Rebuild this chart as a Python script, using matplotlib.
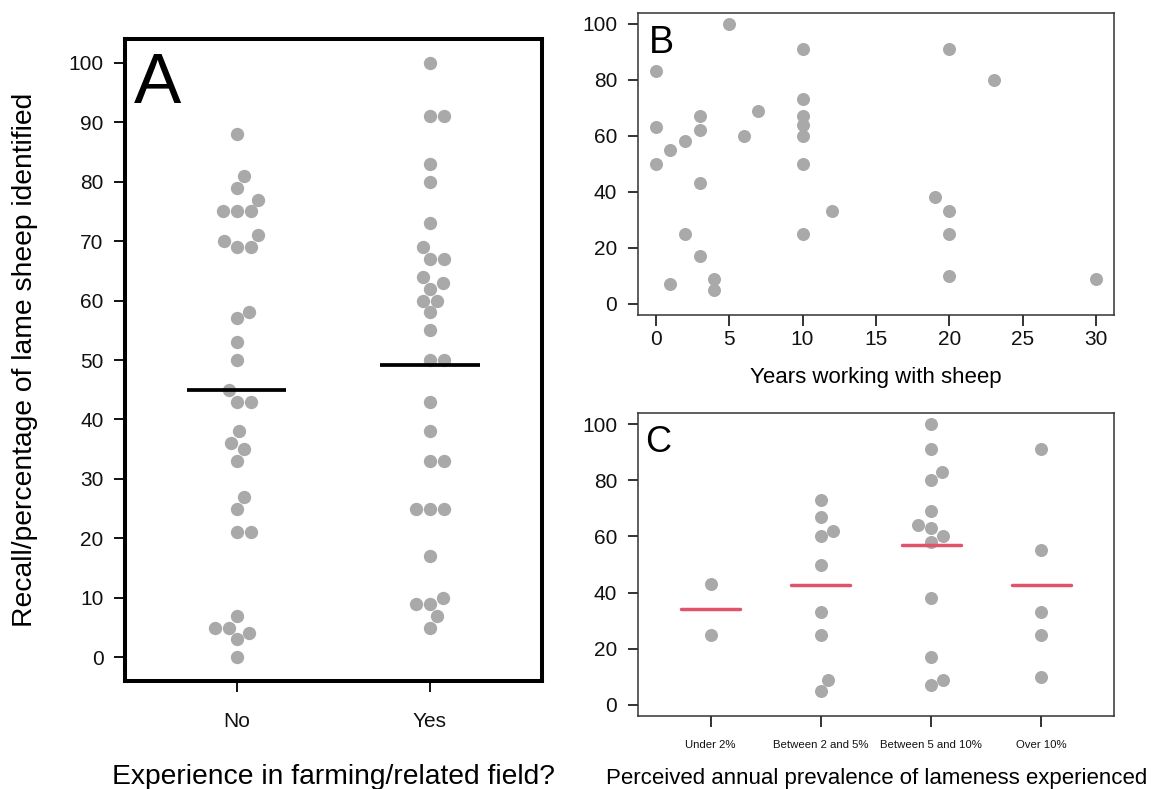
import numpy as np
import matplotlib.pyplot as plt

plt.rcParams['font.family'] = ['Liberation Sans', 'DejaVu Sans']

# A: recall by farming experience
exp_labels = ["No", "Yes"]
exp_no = [88, 81, 79, 77, 75, 75, 75, 71, 70, 69, 69, 58, 57, 53, 50, 45,
          43, 43, 38, 36, 35, 33, 27, 25, 21, 21, 7, 5, 5, 4, 3, 0]
exp_yes = [100, 91, 91, 83, 80, 73, 69, 67, 67, 64, 63, 62, 60, 60, 58, 55,
           50, 50, 43, 38, 33, 33, 25, 25, 25, 17, 10, 9, 9, 7, 5]

# B: recall vs years with sheep
years = [0, 0, 0, 1, 1, 2, 2, 3, 3, 3, 3, 4, 4, 5, 6, 7,
         10, 10, 10, 10, 10, 10, 10, 12, 19, 20, 20, 20, 20, 23, 30]
recall_years = [83, 63, 50, 55, 7, 58, 25, 67, 62, 43, 17, 9, 5, 100, 60, 69,
                91, 73, 67, 64, 60, 50, 25, 33, 38, 91, 33, 25, 10, 80, 9]

# C: recall by perceived lameness prevalence
prev_labels = ["Under 2%", "Between 2 and 5%", "Between 5 and 10%", "Over 10%"]
prev_under2 = [43, 25]
prev_2to5 = [73, 67, 62, 60, 50, 33, 25, 9, 5]
prev_5to10 = [100, 91, 83, 80, 69, 64, 63, 60, 58, 38, 17, 9, 7]
prev_over10 = [91, 55, 33, 25, 10]

GREY = "#A9A9A9"
RED = "#DF536B"
W, H = 1161, 789


def px_axes(fig, left, top, right, bottom):
    return fig.add_axes([left / W, 1 - bottom / H, (right - left) / W, (bottom - top) / H])


def px_text(x, y, s, **kw):
    fig.text(x / W, 1 - y / H, s, **kw)


def swarm(ax, values, diam):
    """Beeswarm offsets: points go in ascending order, each as close to the centre as it can."""
    ys = ax.transData.transform(np.column_stack([np.zeros(len(values)), values]))[:, 1]
    order = np.argsort(ys, kind="stable")
    done = []
    xs = np.zeros(len(values))
    for i in order:
        y = ys[i]
        cands = [0.0]
        for px, py in done:
            dy = abs(py - y)
            if dy < diam:
                h = np.sqrt(diam ** 2 - dy ** 2)
                cands += [px + h, px - h]
        for c in sorted(cands, key=lambda v: (abs(v), -v)):
            if all((c - px) ** 2 + (y - py) ** 2 >= diam ** 2 - 1e-6 for px, py in done):
                xs[i] = c
                break
        done.append((xs[i], y))
    x0 = ax.transData.transform((0, 0))[0]
    x1 = ax.transData.transform((1, 0))[0]
    return xs / (x1 - x0)


fig = plt.figure(figsize=(W / 100, H / 100), dpi=100)

# ---- panel A
axA = px_axes(fig, 124.5, 39, 542, 681)
axA.set_xlim(0.42, 2.58)
axA.set_ylim(-4, 104)
for k, vals in enumerate([exp_no, exp_yes]):
    pos = k + 1
    off = swarm(axA, vals, 14)
    axA.scatter(pos + off, vals, s=92, color=GREY, linewidths=0, zorder=3)
    axA.plot([pos - 0.257, pos + 0.257], [np.mean(vals)] * 2, color="black", lw=2.7,
             solid_capstyle="butt", zorder=4)
for sp in axA.spines.values():
    sp.set_linewidth(2.9)
axA.set_yticks(range(0, 101, 10))
axA.set_xticks([1, 2])
axA.set_xticklabels(exp_labels)
axA.tick_params(axis="y", length=8, width=1.4, pad=7, labelsize=15, colors="#111111")
axA.tick_params(axis="x", length=8, width=1.4, pad=14, labelsize=15, colors="#111111")
px_text(134, 103, "A", fontsize=51, ha="left", va="baseline")
px_text(25, 360, "Recall/percentage of lame sheep identified", rotation=90,
        fontsize=20.3, ha="center", va="center")
px_text(333, 784, "Experience in farming/related field?", fontsize=20.3,
        ha="center", va="baseline")

# ---- panel B
axB = px_axes(fig, 638, 12.7, 1114, 315)
axB.set_xlim(-1.2, 31.2)
axB.set_ylim(-4, 104)
axB.scatter(years, recall_years, s=88, color=GREY, linewidths=0, zorder=3)
axB.set_xticks(range(0, 31, 5))
axB.set_yticks(range(0, 101, 20))
axB.tick_params(axis="x", length=8, width=1.2, pad=3, labelsize=15, colors="#111111")
axB.tick_params(axis="y", length=7, width=1.2, pad=8, labelsize=15, colors="#111111")
px_text(649, 53, "B", fontsize=27, ha="left", va="baseline")
px_text(876, 383, "Years working with sheep", fontsize=16, ha="center", va="baseline")

# ---- panel C
axC = px_axes(fig, 638, 413, 1114, 716)
axC.set_xlim(0.34, 4.66)
axC.set_ylim(-4, 104)
for k, vals in enumerate([prev_under2, prev_2to5, prev_5to10, prev_over10]):
    pos = k + 1
    off = swarm(axC, vals, 13.5)
    axC.scatter(pos + off, vals, s=88, color=GREY, linewidths=0, zorder=3)
    axC.plot([pos - 0.267, pos + 0.267], [np.mean(vals)] * 2, color=RED, lw=2.5,
             solid_capstyle="round", zorder=4)
axC.set_xticks([1, 2, 3, 4])
axC.set_xticklabels(prev_labels)
axC.set_yticks(range(0, 101, 20))
axC.tick_params(axis="y", length=7, width=1.2, pad=8, labelsize=15, colors="#111111")
axC.tick_params(axis="x", length=8, width=1.2, pad=9.5, labelsize=8.2, colors="#111111")
px_text(645, 452, "C", fontsize=26, ha="left", va="baseline")
px_text(877, 784, "Perceived annual prevalence of lameness experienced",
        fontsize=16, ha="center", va="baseline")

for ax in (axB, axC):
    for sp in ax.spines.values():
        sp.set_linewidth(1.1)
        sp.set_color("#333333")

fig.savefig("out.png", dpi=100)
